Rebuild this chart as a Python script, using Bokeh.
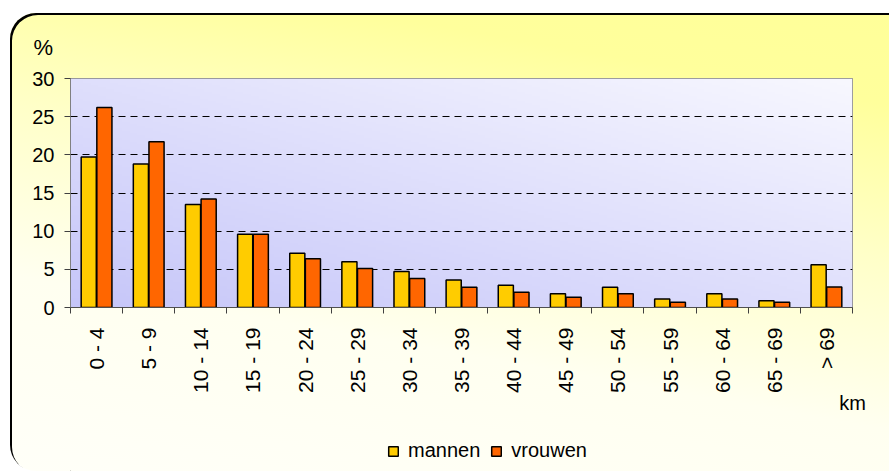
import math
import numpy as np
from bokeh.plotting import figure
from bokeh.layouts import column
from bokeh.models import (ColumnDataSource, Range1d, FixedTicker, Title, Legend,
                          LegendItem, InlineStyleSheet)
from bokeh.transform import dodge
from bokeh.embed import file_html
from bokeh.resources import INLINE

# ---- data ----
categories = ["0 - 4", "5 - 9", "10 - 14", "15 - 19", "20 - 24", "25 - 29", "30 - 34",
              "35 - 39", "40 - 44", "45 - 49", "50 - 54", "55 - 59", "60 - 64",
              "65 - 69", "> 69"]
mannen = [19.7, 18.8, 13.5, 9.6, 7.1, 6.0, 4.7, 3.6, 2.9, 1.8, 2.65, 1.1, 1.8, 0.9, 5.6]
vrouwen = [26.2, 21.7, 14.2, 9.6, 6.4, 5.1, 3.8, 2.65, 2.0, 1.35, 1.8, 0.7, 1.1, 0.7, 2.7]
y_ticks = [0, 5, 10, 15, 20, 25, 30]
grid_ticks = [5, 10, 15, 20, 25]
series_names = ["mannen", "vrouwen"]
series_colors = ["#FFCC00", "#FF6600"]
y_unit = "%"
x_unit = "km"

FONT = "Liberation Sans"
n = len(categories)
centers = [i + 0.5 for i in range(n)]
source = ColumnDataSource(dict(center=centers, cat=categories, mannen=mannen, vrouwen=vrouwen))

fig = figure(width=879, height=410, output_backend="svg", toolbar_location=None,
             x_range=Range1d(0, n), y_range=Range1d(0, 30),
             min_border_left=60, min_border_top=64, min_border_right=37, min_border_bottom=116)

fig.border_fill_alpha = 0
fig.background_fill_color = "#dcdcf8"
fig.outline_line_color = "#808080"
fig.outline_line_width = 1

# plot-area gradient (styling only)
W, H = 200, 100
gx = np.linspace(0, 1, W)
gy = np.linspace(0, 1, H)
X, Y = np.meshgrid(gx, gy)
t = np.clip(0.5 * X + 0.5 * Y, 0, 1)
c0 = np.array([0xc6, 0xc6, 0xf9])
c1 = np.array([0xf8, 0xf8, 0xff])
img = np.empty((H, W), dtype=np.uint32)
view = img.view(dtype=np.uint8).reshape((H, W, 4))
for k in range(3):
    view[:, :, k] = (c0[k] + (c1[k] - c0[k]) * t).astype(np.uint8)
view[:, :, 3] = 255
fig.image_rgba(image=[img], x=0, y=0, dw=n, dh=30, level="image")

# bars
off = 0.15
bw = 0.29
fig.vbar(x=dodge("center", -off), top="mannen", width=bw, source=source,
         fill_color=series_colors[0], line_color="black", line_width=1.5)
fig.vbar(x=dodge("center", off), top="vrouwen", width=bw, source=source,
         fill_color=series_colors[1], line_color="black", line_width=1.5)

# axes
for ax in (fig.xaxis, fig.yaxis):
    ax.major_label_text_font = FONT
    ax.major_label_text_color = "black"
fig.yaxis.major_label_text_font_size = "20px"
fig.xaxis.major_label_text_font_size = "21px"

fig.yaxis.ticker = FixedTicker(ticks=y_ticks)
fig.yaxis.major_tick_out = 6
fig.yaxis.major_tick_in = 0
fig.yaxis.major_tick_line_color = "#404040"
fig.yaxis.minor_tick_line_color = None
fig.yaxis.axis_line_color = "#808080"
fig.yaxis.major_label_standoff = 10

fig.xaxis.ticker = FixedTicker(ticks=centers, minor_ticks=list(range(n + 1)))
fig.xaxis.major_label_overrides = {c: cat for c, cat in zip(centers, categories)}
fig.xaxis.major_tick_line_color = None
fig.xaxis.major_tick_out = 0
fig.xaxis.major_tick_in = 0
fig.xaxis.minor_tick_out = 6
fig.xaxis.minor_tick_in = 0
fig.xaxis.minor_tick_line_color = "#404040"
fig.xaxis.axis_line_color = "#505050"
fig.xaxis.major_label_orientation = math.pi / 2
fig.xaxis.major_label_standoff = 14
fig.xaxis.axis_label = x_unit
fig.xaxis.axis_label_align = "end"
fig.xaxis.axis_label_standoff = -4
fig.xaxis.axis_label_text_font = FONT
fig.xaxis.axis_label_text_font_size = "20px"
fig.xaxis.axis_label_text_font_style = "normal"
fig.xaxis.axis_label_text_color = "black"

fig.xgrid.visible = False
fig.ygrid.ticker = FixedTicker(ticks=grid_ticks)
fig.ygrid.grid_line_color = "black"
fig.ygrid.grid_line_dash = "7 5"
fig.ygrid.grid_line_width = 1

# "%" unit above the y axis
fig.add_layout(Title(text=y_unit, align="left", offset=-37, standoff=38, text_font=FONT,
                     text_font_size="22px", text_font_style="normal", text_color="black"),
               "above")

# legend strip below the chart (proxy renderers lie outside the visible range)
leg = figure(width=879, height=48, output_backend="svg", toolbar_location=None,
             x_axis_type=None, y_axis_type=None, x_range=Range1d(0, 1), y_range=Range1d(0, 1),
             min_border_left=0, min_border_right=0, min_border_top=0, min_border_bottom=0)
leg.border_fill_alpha = 0
leg.background_fill_alpha = 0
leg.outline_line_color = None
lr1 = leg.vbar(x=[-5.0], top=[-5.0], bottom=[-6.0], width=0.1, fill_color=series_colors[0],
               line_color="black", line_width=1.5)
lr2 = leg.vbar(x=[-5.0], top=[-5.0], bottom=[-6.0], width=0.1, fill_color=series_colors[1],
               line_color="black", line_width=1.5)
legend = Legend(items=[LegendItem(label=series_names[0], renderers=[lr1]),
                       LegendItem(label=series_names[1], renderers=[lr2])],
                orientation="horizontal", location=(317, 9),
                border_line_color=None, background_fill_alpha=0,
                label_text_font=FONT, label_text_font_size="20px",
                label_text_color="black",
                glyph_width=12, glyph_height=12, spacing=10, label_standoff=9,
                padding=0, margin=0)
leg.add_layout(legend)

p = column(fig, leg, spacing=0)
p.margin = (13, 0, 0, 10)
p.stylesheets = [InlineStyleSheet(css="""
:host {
  background: linear-gradient(190deg, #ffff99 0%, #ffff9c 15%, #ffffc8 40%, #fffff0 68%, #fffff8 100%);
  box-shadow: inset 2px 2px 0 0 black;
  border-top-left-radius: 26px;
  border-bottom-left-radius: 26px;
}
""")]

open("out.html", "w").write(file_html(p, INLINE))
